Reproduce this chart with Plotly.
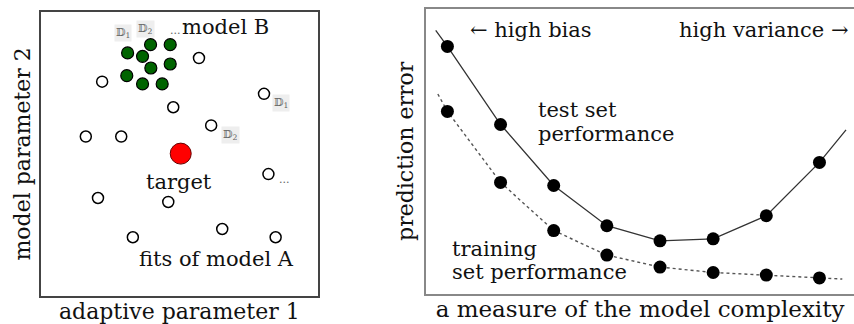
import plotly.graph_objects as go

# ---- left panel: parameter space ----
fits_a_x = [5.71, 2.21, 8.06, 4.78, 6.15, 1.62, 2.90, 8.22, 2.06, 4.60, 6.55, 3.32, 8.48]
fits_a_y = [8.37, 7.54, 7.11, 6.64, 6.00, 5.61, 5.61, 4.29, 3.45, 3.31, 2.36, 2.07, 2.07]
fits_b_x = [3.13, 3.96, 4.67, 3.67, 3.97, 4.67, 3.10, 3.67, 4.38]
fits_b_y = [8.55, 8.84, 8.84, 8.43, 8.02, 8.16, 7.75, 7.46, 7.46]
target_x = [5.05]
target_y = [5.01]

# ---- right panel: error vs. complexity ----
complexity = [1, 2, 3, 4, 5, 6, 7, 8]
test_error = [8.68, 5.94, 3.80, 2.39, 1.86, 1.93, 2.74, 4.61]
train_error = [6.40, 3.91, 2.22, 1.36, 0.94, 0.75, 0.66, 0.56]
# curves run a little past the first and last sample
test_curve_x = [0.78] + complexity + [8.5]
test_curve_y = [9.24] + test_error + [5.75]
train_curve_x = [0.82] + complexity + [8.43]
train_curve_y = [7.01] + train_error + [0.52]

FONT = "DejaVu Serif"

fig = go.Figure()

fig.add_trace(go.Scatter(
    x=fits_a_x, y=fits_a_y, mode="markers", xaxis="x", yaxis="y",
    marker=dict(size=11, color="white", line=dict(color="black", width=1.5)),
))
fig.add_trace(go.Scatter(
    x=fits_b_x, y=fits_b_y, mode="markers", xaxis="x", yaxis="y",
    marker=dict(size=12, color="#006400", line=dict(color="black", width=1.2)),
))
fig.add_trace(go.Scatter(
    x=target_x, y=target_y, mode="markers", xaxis="x", yaxis="y",
    marker=dict(size=21, color="#ff0000", line=dict(color="#660000", width=1)),
))

fig.add_trace(go.Scatter(
    x=train_curve_x, y=train_curve_y, mode="lines", xaxis="x2", yaxis="y2",
    line=dict(color="#555555", width=1.4, dash="3px,3px"),
))
fig.add_trace(go.Scatter(
    x=test_curve_x, y=test_curve_y, mode="lines", xaxis="x2", yaxis="y2",
    line=dict(color="#333333", width=1.3),
))
fig.add_trace(go.Scatter(
    x=complexity, y=test_error, mode="markers", xaxis="x2", yaxis="y2",
    marker=dict(size=13, color="black"),
))
fig.add_trace(go.Scatter(
    x=complexity, y=train_error, mode="markers", xaxis="x2", yaxis="y2",
    marker=dict(size=13, color="black"),
))

big = dict(family=FONT, size=21, color="#111111")
small = dict(family=FONT, size=11, color="#666666")

annotations = [
    dict(x=5.02, y=9.47, text="model B", xanchor="left", font=big, xref="x", yref="y"),
    dict(x=4.98, y=4.01, text="target", font=big, xref="x", yref="y"),
    dict(x=6.34, y=1.30, text="fits of model A", font=big, xref="x", yref="y"),
    dict(x=2.96, y=9.26, text="𝔻<sub>1</sub>", font=small, bgcolor="#eeeeee", xref="x", yref="y"),
    dict(x=3.79, y=9.40, text="𝔻<sub>2</sub>", font=small, bgcolor="#eeeeee", xref="x", yref="y"),
    dict(x=4.87, y=9.35, text="...", font=small, xref="x", yref="y"),
    dict(x=8.68, y=6.80, text="𝔻<sub>1</sub>", font=small, bgcolor="#eeeeee", xref="x", yref="y"),
    dict(x=6.86, y=5.67, text="𝔻<sub>2</sub>", font=small, bgcolor="#eeeeee", xref="x", yref="y"),
    dict(x=8.81, y=4.10, text="...", font=small, xref="x", yref="y"),
    dict(x=1.38, y=9.25, text="← high bias", xanchor="left", font=big, xref="x2", yref="y2"),
    dict(x=8.6, y=9.25, text="high variance →", xanchor="right", font=big, xref="x2", yref="y2"),
    dict(x=2.66, y=6.45, text="test set", xanchor="left", font=big, xref="x2", yref="y2"),
    dict(x=2.66, y=5.62, text="performance", xanchor="left", font=big, xref="x2", yref="y2"),
    dict(x=1.05, y=1.58, text="training", xanchor="left", font=big, xref="x2", yref="y2"),
    dict(x=1.05, y=0.77, text="set performance", xanchor="left", font=big, xref="x2", yref="y2"),
]
for a in annotations:
    a.setdefault("showarrow", False)

title_font = dict(family=FONT, size=22, color="#111111")

fig.update_layout(
    width=854, height=324,
    margin=dict(l=0, r=0, t=0, b=0),
    paper_bgcolor="white", plot_bgcolor="white",
    showlegend=False,
    annotations=annotations,
    xaxis=dict(domain=[0.048, 0.372], range=[0, 10], showticklabels=False, ticks="",
               showgrid=False, zeroline=False, showline=True, mirror=True,
               linecolor="#444444", linewidth=1.5,
               title=dict(text="adaptive parameter 1", font=title_font, standoff=7)),
    yaxis=dict(domain=[0.086, 0.964], range=[0, 10], showticklabels=False, ticks="",
               showgrid=False, zeroline=False, showline=True, mirror=True,
               linecolor="#444444", linewidth=1.5,
               title=dict(text="model parameter 2", font=title_font, standoff=3)),
    xaxis2=dict(domain=[0.499, 1.0], range=[0.6, 8.65], showticklabels=False, ticks="",
                showgrid=False, zeroline=False, showline=True, mirror=True,
                linecolor="#888888", linewidth=2, anchor="y2",
                title=dict(text="a measure of the model complexity",
                           font=dict(family=FONT, size=23, color="#111111"), standoff=6)),
    yaxis2=dict(domain=[0.093, 0.973], range=[0, 10], showticklabels=False, ticks="",
                showgrid=False, zeroline=False, showline=True, mirror=False,
                linecolor="#888888", linewidth=2, anchor="x2",
                title=dict(text="prediction error", font=title_font, standoff=4)),
)

fig.write_html("out.html")
